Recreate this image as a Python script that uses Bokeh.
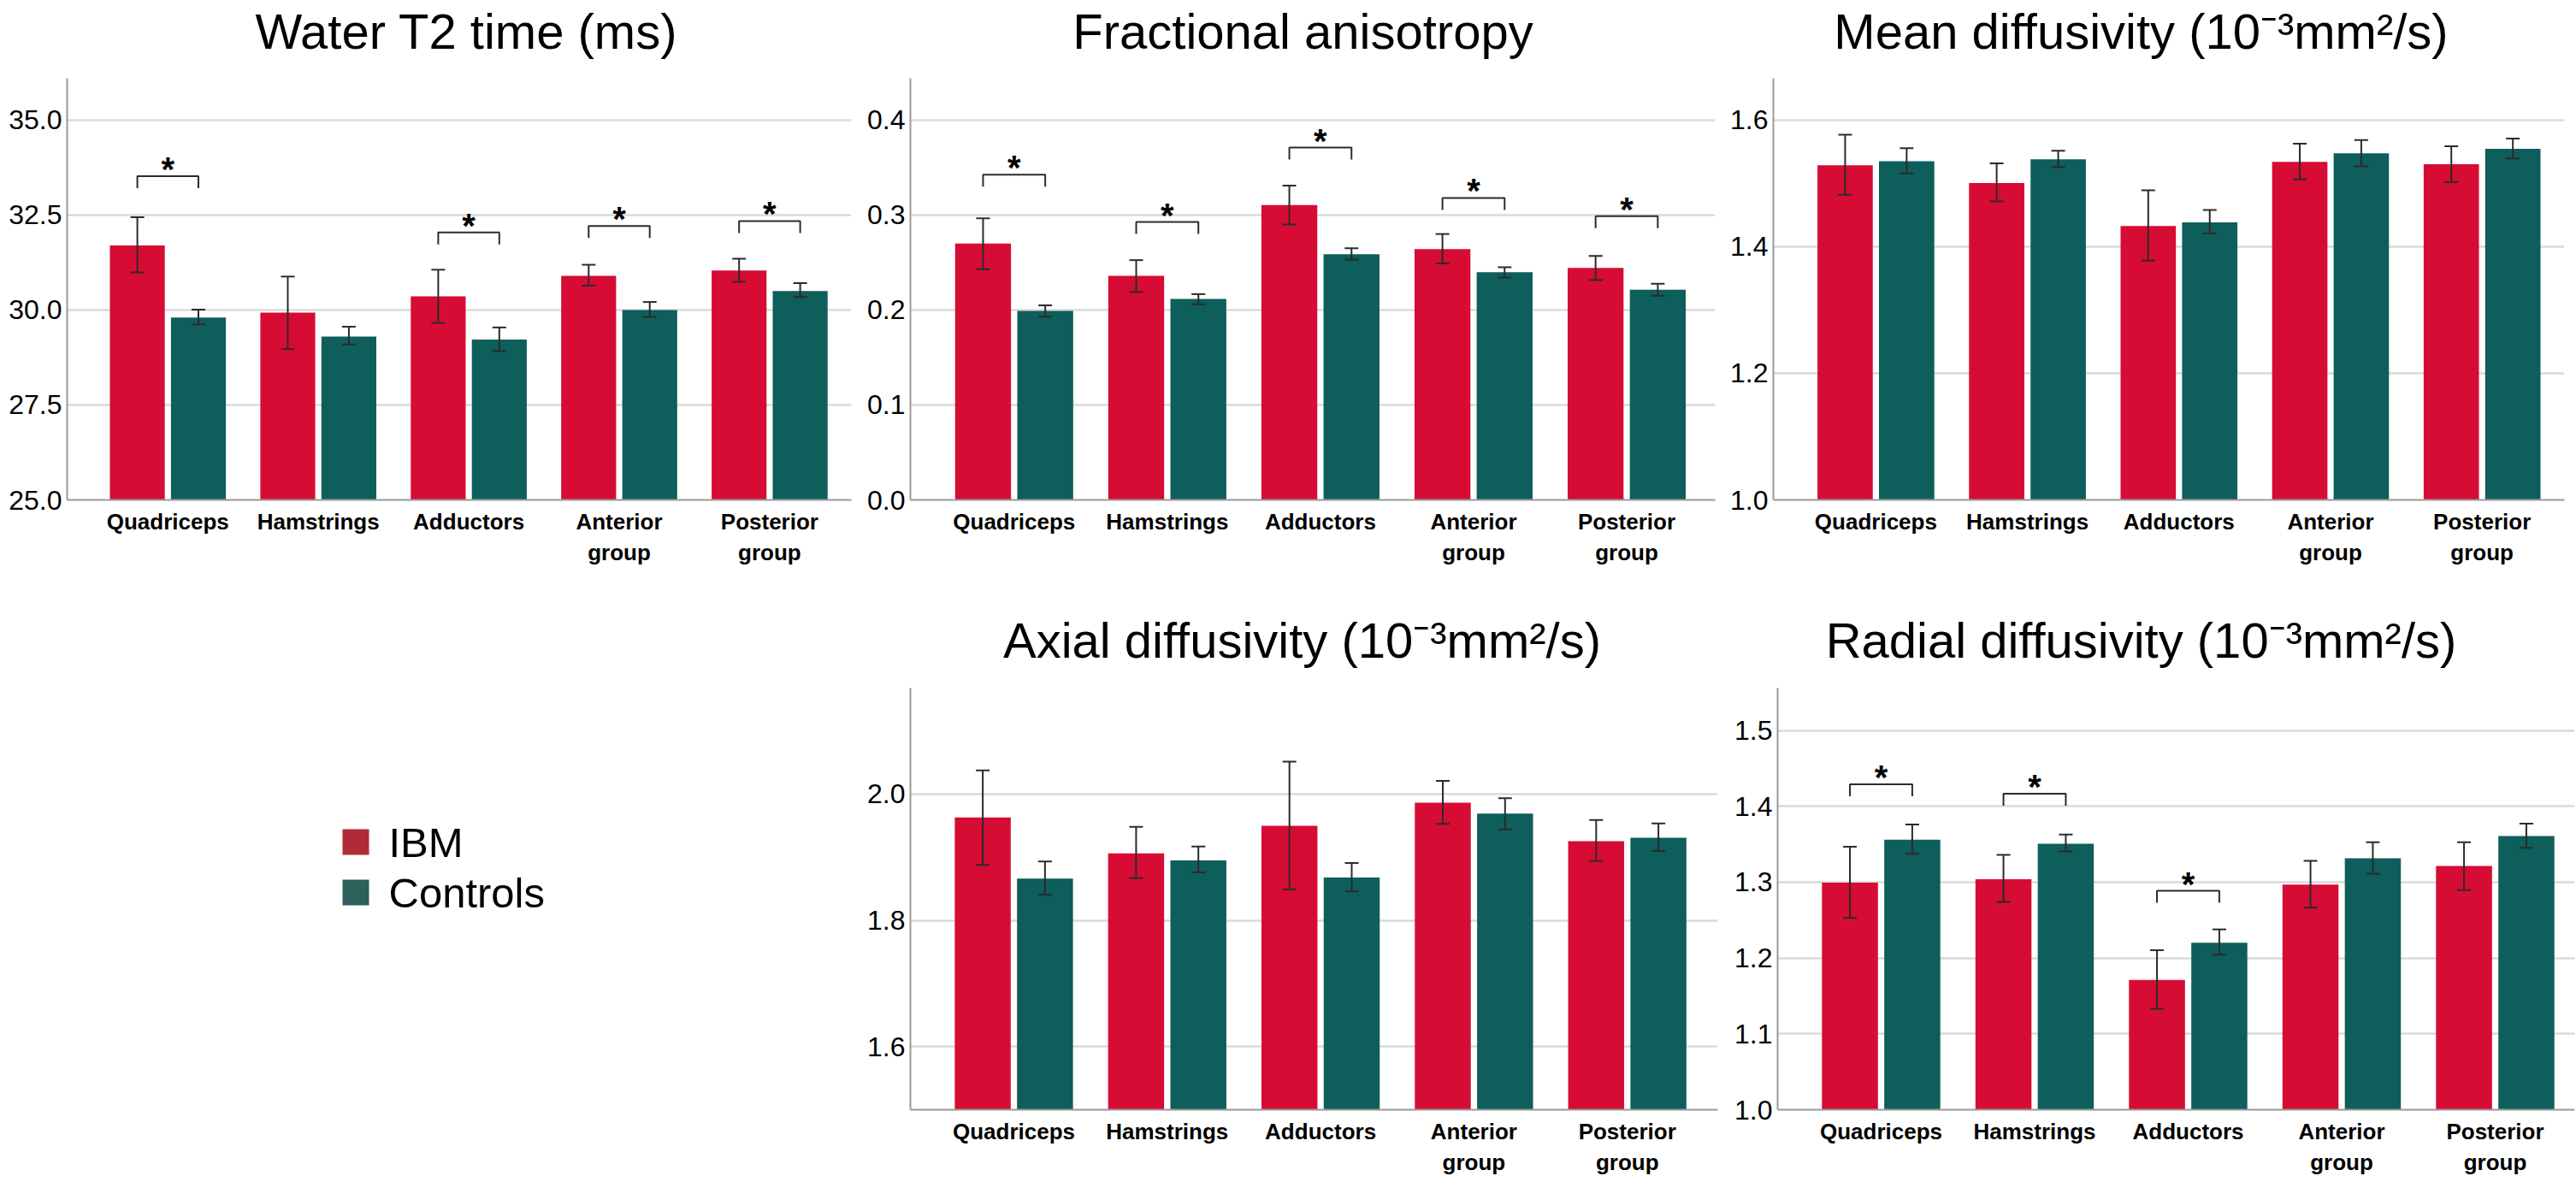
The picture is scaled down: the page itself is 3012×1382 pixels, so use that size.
from bokeh.plotting import figure
from bokeh.layouts import row, column
from bokeh.models import (ColumnDataSource, Whisker, TeeHead, FixedTicker,
                          Range1d, NumeralTickFormatter, Spacer)
from bokeh.core.properties import value
from bokeh.embed import file_html
from bokeh.resources import INLINE

# ---------------- data ----------------
categories = ["Quadriceps", "Hamstrings", "Adductors", "Anterior\ngroup", "Posterior\ngroup"]
groups = ["IBM", "Controls"]

# Water T2 time (ms)
t2_ibm = [31.70, 29.93, 30.36, 30.90, 31.04]
t2_ibm_lo = [30.99, 28.97, 29.66, 30.64, 30.74]
t2_ibm_hi = [32.44, 30.88, 31.06, 31.19, 31.35]
t2_ctl = [29.80, 29.30, 29.22, 30.00, 30.50]
t2_ctl_lo = [29.62, 29.09, 28.92, 29.82, 30.34]
t2_ctl_hi = [30.01, 29.56, 29.54, 30.21, 30.71]
t2_sig = [0, 2, 3, 4]
t2_sig_y = [33.52, 32.04, 32.21, 32.34]
t2_ticks = [25.0, 27.5, 30.0, 32.5, 35.0]

# Fractional anisotropy
fa_ibm = [0.270, 0.236, 0.3105, 0.264, 0.2444]
fa_ibm_lo = [0.243, 0.219, 0.290, 0.249, 0.2315]
fa_ibm_hi = [0.2965, 0.2525, 0.331, 0.280, 0.2568]
fa_ctl = [0.199, 0.2117, 0.2588, 0.2397, 0.2214]
fa_ctl_lo = [0.193, 0.206, 0.253, 0.234, 0.215]
fa_ctl_hi = [0.205, 0.2167, 0.265, 0.245, 0.2276]
fa_sig = [0, 1, 2, 3, 4]
fa_sig_y = [0.3424, 0.2926, 0.371, 0.318, 0.2988]
fa_ticks = [0.0, 0.1, 0.2, 0.3, 0.4]

# Mean diffusivity
md_ibm = [1.5287, 1.5006, 1.4327, 1.534, 1.5304]
md_ibm_lo = [1.4818, 1.4713, 1.378, 1.5064, 1.5018]
md_ibm_hi = [1.577, 1.5316, 1.4889, 1.5627, 1.5585]
md_ctl = [1.535, 1.538, 1.4385, 1.5474, 1.5545]
md_ctl_lo = [1.5158, 1.5258, 1.421, 1.527, 1.5392]
md_ctl_hi = [1.5556, 1.5515, 1.4578, 1.5685, 1.5708]
md_sig = []
md_sig_y = []
md_ticks = [1.0, 1.2, 1.4, 1.6]

# Axial diffusivity
ad_ibm = [1.963, 1.906, 1.950, 1.9865, 1.9255]
ad_ibm_lo = [1.888, 1.867, 1.849, 1.953, 1.894]
ad_ibm_hi = [2.0375, 1.948, 2.0516, 2.021, 1.959]
ad_ctl = [1.8663, 1.895, 1.868, 1.969, 1.931]
ad_ctl_lo = [1.8405, 1.876, 1.846, 1.944, 1.910]
ad_ctl_hi = [1.8933, 1.917, 1.891, 1.9935, 1.9537]
ad_sig = []
ad_sig_y = []
ad_ticks = [1.6, 1.8, 2.0]

# Radial diffusivity
rd_ibm = [1.2994, 1.3038, 1.1712, 1.297, 1.3214]
rd_ibm_lo = [1.2529, 1.274, 1.133, 1.2666, 1.2896]
rd_ibm_hi = [1.3469, 1.3361, 1.2104, 1.3283, 1.3527]
rd_ctl = [1.3562, 1.3508, 1.2202, 1.3317, 1.361]
rd_ctl_lo = [1.3376, 1.3405, 1.2045, 1.3112, 1.3454]
rd_ctl_hi = [1.3762, 1.363, 1.2378, 1.3527, 1.3772]
rd_sig = [0, 1, 2]
rd_sig_y = [1.429, 1.4168, 1.2886]
rd_ticks = [1.0, 1.1, 1.2, 1.3, 1.4, 1.5]

titles = ["Water T2 time (ms)", "Fractional anisotropy",
          "Mean diffusivity (10\u207b\u00b3mm\u00b2/s)",
          "Axial diffusivity (10\u207b\u00b3mm\u00b2/s)",
          "Radial diffusivity (10\u207b\u00b3mm\u00b2/s)"]

# ---------------- style ----------------
FONT = "Liberation Sans"
IBM_COLOR = "#D60C35"
CTL_COLOR = "#0E5E5B"
LEG_COLORS = ["#B02A37", "#2D5F5B"]
ERR_COLOR = "#2B2B2B"
AXIS_COLOR = "#9A9A9A"
GRID_COLOR = "#DADADA"
BAR_W = 0.365
OFF = 0.203

COL_W = [1003, 1010, 999]
TITLE_H_TOP, PLOT_H_TOP = 91, 609
TITLE_H_BOT, PLOT_H_BOT = 104, 578


def blank(width, height, xr, yr, **kw):
    p = figure(width=width, height=height, x_range=xr, y_range=yr,
               output_backend="svg", toolbar_location=None,
               x_axis_location=None, y_axis_location=None, outline_line_color=None,
               background_fill_color="white", border_fill_color="white", **kw)
    p.grid.visible = False
    return p


def title_strip(text, width, height, cx, cy):
    p = blank(width, height, Range1d(0, width), Range1d(height, 0), min_border=0)
    p.text(x=[cx], y=[cy], text=[text], text_align="center",
           text_baseline="middle", text_font=value(FONT),
           text_font_size="58px", text_color="black")
    return p


def make_panel(ibm, ibm_lo, ibm_hi, ctl, ctl_lo, ctl_hi, sig, sig_y, ticks,
               y_start, y_end, x_start, x_end, width, height, mbl, mbr, mbb):
    p = figure(width=width, height=height,
               x_range=Range1d(x_start, x_end), y_range=Range1d(y_start, y_end),
               output_backend="svg", toolbar_location=None,
               min_border_left=mbl, min_border_right=mbr,
               min_border_top=0, min_border_bottom=mbb,
               outline_line_color=None, background_fill_color="white",
               border_fill_color="white")
    xs = list(range(len(categories)))
    src = ColumnDataSource(dict(
        x_ibm=[x - OFF for x in xs], x_ctl=[x + OFF for x in xs],
        ibm=ibm, ibm_lo=ibm_lo, ibm_hi=ibm_hi,
        ctl=ctl, ctl_lo=ctl_lo, ctl_hi=ctl_hi))
    p.vbar(x="x_ibm", top="ibm", bottom=y_start, width=BAR_W, source=src,
           fill_color=IBM_COLOR, line_color=None)
    p.vbar(x="x_ctl", top="ctl", bottom=y_start, width=BAR_W, source=src,
           fill_color=CTL_COLOR, line_color=None)
    for base, lo, hi in (("x_ibm", "ibm_lo", "ibm_hi"), ("x_ctl", "ctl_lo", "ctl_hi")):
        w = Whisker(base=base, lower=lo, upper=hi, source=src, level="annotation",
                    line_color=ERR_COLOR, line_width=2,
                    upper_head=TeeHead(size=16, line_color=ERR_COLOR, line_width=2),
                    lower_head=TeeHead(size=16, line_color=ERR_COLOR, line_width=2))
        p.add_layout(w)

    # significance brackets
    frame_h = height - mbb
    drop = 14 * (y_end - y_start) / frame_h
    if sig:
        bx = [[i - OFF, i - OFF, i + OFF, i + OFF] for i in sig]
        by = [[y - drop, y, y, y - drop] for y in sig_y]
        p.multi_line(xs=bx, ys=by, line_color=ERR_COLOR, line_width=2)
        p.text(x=sig, y=sig_y, text=["*"] * len(sig), text_align="center",
               text_baseline="alphabetic", y_offset=-8,
               text_font=value(FONT), text_font_style="bold",
               text_font_size="40px", text_color="black")

    # axes
    p.xgrid.grid_line_color = None
    p.ygrid.grid_line_color = GRID_COLOR
    p.ygrid.grid_line_width = 2.5
    p.yaxis.ticker = FixedTicker(ticks=ticks)
    p.xaxis.ticker = FixedTicker(ticks=xs)
    p.ygrid.ticker = FixedTicker(ticks=ticks)
    p.yaxis.formatter = NumeralTickFormatter(format="0.0")
    p.xaxis.major_label_overrides = {i: c for i, c in enumerate(categories)}
    for ax in (p.xaxis[0], p.yaxis[0]):
        ax.axis_line_color = AXIS_COLOR
        ax.axis_line_width = 2
        ax.major_tick_out = 0
        ax.major_tick_in = 0
        ax.minor_tick_out = 0
        ax.minor_tick_in = 0
        ax.major_label_text_font = FONT
        ax.major_label_text_color = "black"
    p.yaxis.major_label_text_font_size = "32px"
    p.yaxis.major_label_standoff = 6
    p.xaxis.major_label_text_font_size = "26px"
    p.xaxis.major_label_text_font_style = "bold"
    p.xaxis.major_label_standoff = 10
    return p


# ---- top row ----
t1 = title_strip(titles[0], COL_W[0], TITLE_H_TOP, 545, 36)
t2 = title_strip(titles[1], COL_W[1], TITLE_H_TOP, 1523 - 1003, 36)
t3 = title_strip(titles[2], COL_W[2], TITLE_H_TOP, 2503 - 2013, 36)

f1 = make_panel(t2_ibm, t2_ibm_lo, t2_ibm_hi, t2_ctl, t2_ctl_lo, t2_ctl_hi,
                t2_sig, t2_sig_y, t2_ticks, 25.0, 36.1, -0.6697, 4.5435,
                COL_W[0], PLOT_H_TOP, 78, 8, 116)
f2 = make_panel(fa_ibm, fa_ibm_lo, fa_ibm_hi, fa_ctl, fa_ctl_lo, fa_ctl_hi,
                fa_sig, fa_sig_y, fa_ticks, 0.0, 0.444, -0.6775, 4.578,
                COL_W[1], PLOT_H_TOP, 61, 8, 116)
f3 = make_panel(md_ibm, md_ibm_lo, md_ibm_hi, md_ctl, md_ctl_lo, md_ctl_hi,
                md_sig, md_sig_y, md_ticks, 1.0, 1.666, -0.6766, 4.5435,
                COL_W[2], PLOT_H_TOP, 60, 14, 116)

# ---- bottom row ----
t5 = title_strip(titles[3], COL_W[1], TITLE_H_BOT, 1522 - 1003, 48)
t6 = title_strip(titles[4], COL_W[2], TITLE_H_BOT, 2503 - 2013, 48)

f5 = make_panel(ad_ibm, ad_ibm_lo, ad_ibm_hi, ad_ctl, ad_ctl_lo, ad_ctl_hi,
                ad_sig, ad_sig_y, ad_ticks, 1.5, 2.168, -0.6748, 4.59,
                COL_W[1], PLOT_H_BOT, 61, 5, 85)
f6 = make_panel(rd_ibm, rd_ibm_lo, rd_ibm_hi, rd_ctl, rd_ctl_lo, rd_ctl_hi,
                rd_sig, rd_sig_y, rd_ticks, 1.0, 1.556, -0.674, 4.518,
                COL_W[2], PLOT_H_BOT, 65, 2, 85)

# legend panel (frame spans page y 804..1297 because rows align frames)
row_top = TITLE_H_TOP + PLOT_H_TOP + TITLE_H_BOT
leg = blank(COL_W[0], PLOT_H_BOT, Range1d(0, COL_W[0]),
            Range1d(row_top + PLOT_H_BOT - 85, row_top),
            min_border_left=0, min_border_right=0, min_border_top=0, min_border_bottom=85)
sq_x, sq_y0, pitch, sq = 415.5, 984, 59, 31
ly = [sq_y0 + i * pitch for i in range(len(groups))]
leg.rect(x=[sq_x] * len(groups), y=ly, width=sq, height=30, fill_color=LEG_COLORS, line_color=None)
leg.text(x=[sq_x + sq / 2 + 23] * len(groups), y=ly, text=groups, text_baseline="middle",
         text_align="left", text_font=value(FONT), text_font_size="49px", text_color="black")

layout = column(
    row(t1, t2, t3, spacing=0),
    row(f1, f2, f3, spacing=0),
    row(Spacer(width=COL_W[0], height=TITLE_H_BOT), t5, t6, spacing=0),
    row(leg, f5, f6, spacing=0),
    spacing=0)

open("out.html", "w").write(file_html(layout, INLINE))
